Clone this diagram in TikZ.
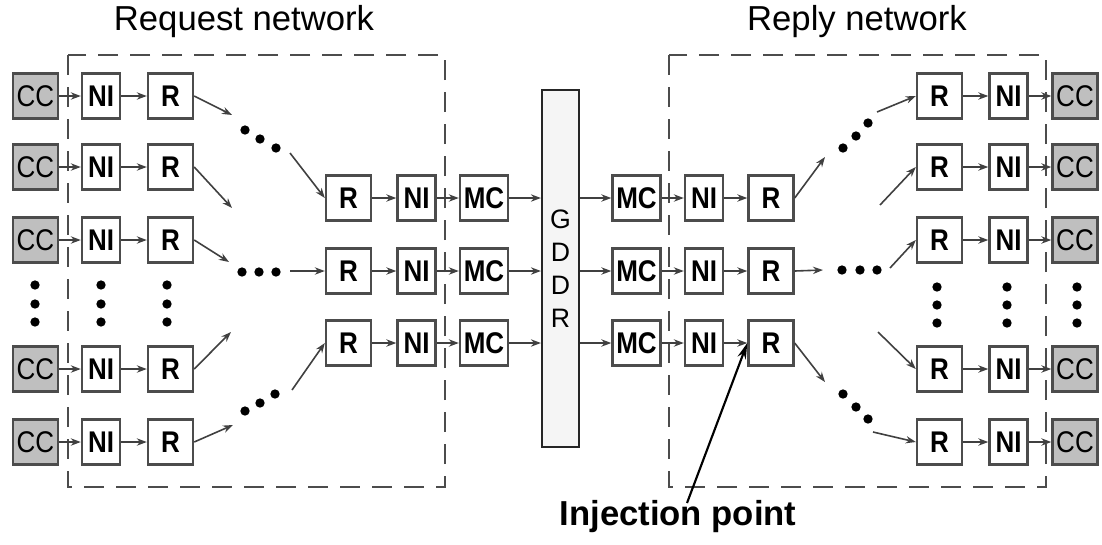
\documentclass[tikz,border=0pt]{standalone}
\usepackage{fontspec}
\setmainfont{Liberation Sans}
\usepackage{graphicx}
\usetikzlibrary{arrows.meta}
\newcommand\lbl[1]{\scalebox{1}[1.15]{#1}}
\begin{document}
\begin{tikzpicture}[x=0.75pt,y=-0.75pt,
  box/.style={draw=black!70, line width=1.8pt, minimum height=33.75pt, inner sep=0pt, fill=white,
    font=\fontsize{19.5}{20}\selectfont\bfseries},
  ccbox/.style={box, fill=black!25, minimum width=33.75pt, font=\fontsize{19.5}{20}\selectfont},
  nibox/.style={box, minimum width=28.5pt},
  rbox/.style={box, minimum width=33.75pt},
  mcbox/.style={box, minimum width=36pt},
  arr/.style={-{Stealth[length=7.5pt,width=5.5pt]}, draw=black!75, line width=1.2pt},
  dotn/.style={circle, fill=black, inner sep=0pt, minimum size=7pt},
  dashbox/.style={draw=black!70, line width=1.6pt, dash pattern=on 15pt off 9pt},
  title/.style={font=\fontsize{26}{28}\selectfont, inner sep=0pt},
  injarr/.style={-{Stealth[length=12pt,width=6.5pt]}, line width=1.6pt, draw=black}
]
\useasboundingbox (0,0) rectangle (1102,544);

% dashed network boxes
\draw[dashbox] (68,55) rectangle (445,487);
\draw[dashbox] (669,55) rectangle (1046,487);

% titles
\node[title] (tl) at (244,22) {Request network};
\node[title] (tr) at (857,22) {Reply network};

% left columns
\foreach \i/\y in {1/96,2/167,3/240,5/369,6/442} {
  \node[ccbox] (lcc\i) at (35.5,\y) {\lbl{CC}};
  \node[nibox] (lni\i) at (101,\y) {\lbl{NI}};
  \node[rbox]  (lr\i)  at (170.5,\y) {\lbl{R}};
  \draw[arr] (lcc\i) -- (lni\i);
  \draw[arr] (lni\i) -- (lr\i);
}
% right columns
\foreach \i/\y in {1/96,2/167,3/240,5/369,6/442} {
  \node[rbox]  (frr\i) at (939.5,\y) {\lbl{R}};
  \node[nibox] (fni\i) at (1008.5,\y) {\lbl{NI}};
  \node[ccbox] (fcc\i) at (1075,\y) {\lbl{CC}};
  \draw[arr] (frr\i) -- (fni\i);
  \draw[arr] (fni\i) -- (fcc\i);
}

% GDDR
\node[draw=black!85, line width=1.6pt, fill=black!4, minimum width=27.75pt, minimum height=267.75pt,
      inner sep=0pt, align=center, font=\fontsize{20}{24.75}\selectfont] (gddr) at (560.5,268.5)
      {G\\D\\D\\R};

% middle rows
\foreach \i/\y in {A/198,B/271,C/343} {
  \node[rbox]  (mr\i)  at (348.5,\y) {\lbl{R}};
  \node[nibox] (mni\i) at (416.5,\y) {\lbl{NI}};
  \node[mcbox] (mmc\i) at (484,\y) {\lbl{MC}};
  \node[mcbox] (rmc\i) at (636.5,\y) {\lbl{MC}};
  \node[nibox] (rni\i) at (704,\y) {\lbl{NI}};
  \node[rbox]  (rr\i)  at (771,\y) {\lbl{R}};
  \draw[arr] (mr\i) -- (mni\i);
  \draw[arr] (mni\i) -- (mmc\i);
  \draw[arr] (mmc\i.east) -- (mmc\i.east -| gddr.west);
  \draw[arr] (rmc\i.west -| gddr.east) -- (rmc\i.west);
  \draw[arr] (rmc\i) -- (rni\i);
  \draw[arr] (rni\i) -- (rr\i);
}

% vertical ellipsis dots
\foreach \x in {35,101,167} \foreach \y in {285,304,322} \node[dotn] at (\x,\y) {};
\foreach \x in {937,1007,1077} \foreach \y in {287,305,323} \node[dotn] at (\x,\y) {};

% left fan-in
\coordinate (la1) at (232,115);
\draw[arr] (lr1.east) -- (la1);
\foreach \p in {(245,130),(260,139),(276,148)} \node[dotn] at \p {};
\coordinate (lb1) at (290,153);
\draw[arr] (lb1) -- (mrA.west);

\coordinate (la2) at (232,208);
\draw[arr] (lr2.east) -- (la2);

\coordinate (la3) at (229,262);
\draw[arr] (lr3.east) -- (la3);
\foreach \p in {(242,272),(259,272),(276,272)} \node[dotn] at \p {};
\coordinate (lb3) at (290,271);
\draw[arr] (lb3) -- (mrB.west);

\coordinate (la5) at (231,332);
\draw[arr] (lr5.east) -- (la5);

\coordinate (la6) at (233,425);
\draw[arr] (lr6.east) -- (la6);
\foreach \p in {(245,411),(260,403),(275,394)} \node[dotn] at \p {};
\coordinate (lb6) at (292,390);
\draw[arr] (lb6) -- (mrC.west);

% right fan-out
\coordinate (ra1) at (825,157);
\draw[arr] (rrA.east) -- (ra1);
\foreach \p in {(843,148),(856,136),(868,123)} \node[dotn] at \p {};
\coordinate (rb1) at (877,112);
\draw[arr] (rb1) -- (frr1.west);

\coordinate (rb2) at (880,205);
\draw[arr] (rb2) -- (frr2.west);

\coordinate (ra3) at (823,270);
\draw[arr] (rrB.east) -- (ra3);
\foreach \p in {(842,270),(860,270),(877,270)} \node[dotn] at \p {};
\coordinate (rb3) at (890,268);
\draw[arr] (rb3) -- (frr3.west);

\coordinate (rb5) at (878,332);
\draw[arr] (rb5) -- (frr5.west);

\coordinate (ra6) at (825,382);
\draw[arr] (rrC.east) -- (ra6);
\foreach \p in {(843,394),(856,407),(868,419)} \node[dotn] at \p {};
\coordinate (rb6) at (873,432);
\draw[arr] (rb6) -- (frr6.west);

% injection point
\node[font=\fontsize{26}{28}\selectfont\bfseries, inner sep=0pt] (inj) at (678,517) {Injection point};
\coordinate (injtail) at (687,503);
\draw[injarr] (injtail) -- (rrC.west);
\end{tikzpicture}
\end{document}
